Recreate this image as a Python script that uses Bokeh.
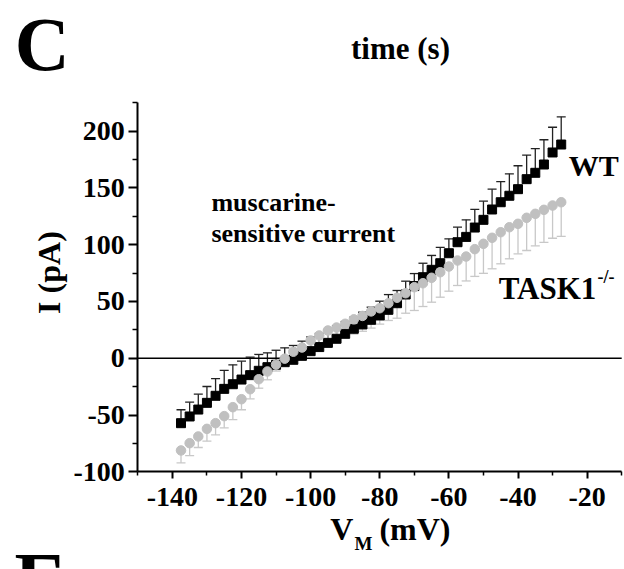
import math
from bokeh.plotting import figure
from bokeh.models import (ColumnDataSource, Range1d, FixedTicker, Whisker, TeeHead,
                          Label, LinearAxis)
from bokeh.embed import file_html
from bokeh.resources import INLINE

# ---------------- data ----------------
vm = [-137.5, -135.0, -132.5, -130.0, -127.5, -125.0, -122.5, -120.0, -117.5, -115.0,
      -112.5, -110.0, -107.5, -105.0, -102.5, -100.0, -97.5, -95.0, -92.5, -90.0,
      -87.5, -85.0, -82.5, -80.0, -77.5, -75.0, -72.5, -70.0, -67.5, -65.0,
      -62.5, -60.0, -57.5, -55.0, -52.5, -50.0, -47.5, -45.0, -42.5, -40.0,
      -37.5, -35.0, -32.5, -30.0, -27.5]

wt_mean = [-57.2, -51.3, -45.2, -39.3, -33.1, -27.0, -22.9, -18.8, -14.9, -11.1,
           -7.9, -5.8, -3.5, -1.4, 2.1, 6.2, 9.8, 13.5, 17.1, 21.5,
           25.9, 29.7, 33.8, 37.6, 42.6, 48.4, 56.1, 63.5, 71.3, 77.8,
           83.6, 92.4, 102.1, 106.8, 115.0, 121.8, 130.9, 137.3, 143.0, 148.8,
           157.6, 163.2, 170.5, 181.1, 188.1]
wt_err = [11.8, 12.6, 13.5, 14.4, 15.2, 16.2, 17.1, 16.2, 15.8, 14.4,
          12.6, 12.8, 12.6, 12.6, 12.9, 12.5, 12.0, 11.5, 11.5, 10.8,
          10.2, 10.8, 11.1, 12.6, 13.4, 11.2, 11.7, 11.0, 12.3, 12.6,
          14.0, 12.7, 13.2, 15.0, 16.0, 16.4, 17.9, 18.2, 19.3, 20.6,
          21.2, 21.2, 21.8, 22.2, 24.4]

ko_mean = [-81.2, -74.8, -68.9, -62.2, -57.2, -51.0, -43.1, -36.1, -27.3, -18.5,
           -11.7, -5.7, -0.4, 5.7, 9.4, 15.6, 20.0, 24.4, 27.0, 30.3,
           34.2, 37.2, 41.2, 44.0, 48.4, 53.2, 57.2, 62.5, 66.0, 70.8,
           75.7, 80.7, 86.0, 89.5, 96.0, 100.7, 106.0, 110.9, 115.3, 118.3,
           123.6, 127.1, 130.6, 134.4, 137.3]
ko_err = [11.0, 11.0, 9.7, 10.8, 10.3, 10.3, 10.9, 9.3, 8.5, 7.9,
          7.3, 5.6, 6.0, 6.5, 7.5, 8.5, 9.5, 10.5, 11.5, 12.5,
          13.0, 13.5, 14.7, 14.0, 15.2, 18.0, 17.6, 20.5, 20.5, 21.5,
          22.0, 21.7, 22.0, 21.5, 24.0, 26.0, 27.3, 27.8, 27.8, 26.4,
          28.8, 28.2, 28.6, 28.8, 30.0]

x_ticks = [-140, -120, -100, -80, -60, -40, -20]
x_minor = [-150, -130, -110, -90, -70, -50, -30, -10]
y_ticks = [-100, -50, 0, 50, 100, 150, 200]
y_minor = [-75, -25, 25, 75, 125, 175, 225]

X_LIM = (-150, -10)     # extent of the drawn x axis
Y_LIM = (-100, 225)     # extent of the drawn y axis

# ---------------- figure ----------------
FONT = "Liberation Serif"
W, H = 624, 569
# axis box inside the canvas (pixels): left, right, top, bottom
BL, BR, BT, BB = 137.3, 621.2, 102.1, 471.3
kx = (X_LIM[1] - X_LIM[0]) / (BR - BL)
ky = (Y_LIM[1] - Y_LIM[0]) / (BB - BT)
xr = Range1d(X_LIM[0] - BL * kx, X_LIM[1] + (W - BR) * kx)
yr = Range1d(Y_LIM[0] - (H - BB) * ky, Y_LIM[1] + BT * ky)

p = figure(width=W, height=H, output_backend="svg", toolbar_location=None,
           x_range=xr, y_range=yr, x_axis_location=None, y_axis_location=None,
           min_border=0, min_border_left=0, min_border_right=0,
           min_border_top=0, min_border_bottom=0)
p.outline_line_color = None
p.grid.visible = False
p.background_fill_color = "white"
p.border_fill_color = "white"

xaxis = LinearAxis(fixed_location=Y_LIM[0], bounds=X_LIM,
                   ticker=FixedTicker(ticks=x_ticks, minor_ticks=x_minor))
yaxis = LinearAxis(fixed_location=X_LIM[0], bounds=Y_LIM,
                   ticker=FixedTicker(ticks=y_ticks, minor_ticks=y_minor))
xaxis.major_label_overrides = {t: str(t) for t in x_ticks}
yaxis.major_label_overrides = {t: str(t) for t in y_ticks}
for ax in (xaxis, yaxis):
    ax.axis_line_width = 2
    ax.axis_line_color = "black"
    ax.major_tick_line_width = 2
    ax.minor_tick_line_width = 1.5
    ax.major_tick_in = 0
    ax.minor_tick_in = 0
    ax.major_label_text_font = FONT
    ax.major_label_text_font_style = "bold"
    ax.major_label_text_font_size = "28px"
    ax.major_label_text_color = "black"
xaxis.major_tick_out = 7
xaxis.minor_tick_out = 4
xaxis.major_label_standoff = 9
yaxis.major_tick_out = 9
yaxis.minor_tick_out = 5
yaxis.major_label_standoff = 4
p.add_layout(xaxis, "below")
p.add_layout(yaxis, "left")

# zero line across the axis box
p.segment(x0=[X_LIM[0]], y0=[0], x1=[X_LIM[1]], y1=[0], line_color="black",
          line_width=1.5)

wt_src = ColumnDataSource(dict(x=vm, y=wt_mean,
                               up=[m + e for m, e in zip(wt_mean, wt_err)]))
ko_src = ColumnDataSource(dict(x=vm, y=ko_mean,
                               lo=[m - e for m, e in zip(ko_mean, ko_err)]))

wt_wh = Whisker(source=wt_src, base="x", upper="up", lower="y",
                upper_head=TeeHead(size=9, line_color="#222222", line_width=1.3),
                lower_head=None, line_color="#222222", line_width=1.3, level="underlay")
ko_wh = Whisker(source=ko_src, base="x", upper="y", lower="lo",
                lower_head=TeeHead(size=9, line_color="#c8c8c8", line_width=1.3),
                upper_head=None, line_color="#c8c8c8", line_width=1.3, level="underlay")
p.add_layout(wt_wh)
p.add_layout(ko_wh)

p.scatter("x", "y", source=wt_src, marker="square", size=9,
          fill_color="black", line_color="black")
p.scatter("x", "y", source=ko_src, marker="circle", size=9.5,
          fill_color="#c0c0c0", line_color="#c0c0c0")


def lab(x, y, text, size, baseline="bottom", **kw):
    p.add_layout(Label(x=x, y=y, text=text, text_font=FONT, text_font_style="bold",
                       text_font_size=size, text_color="black",
                       text_baseline=baseline, **kw))


lab(-185.6, 239.7, "C", "76px")
lab(-74.0, 257.6, "time (s)", "31px", text_align="center")
lab(-175.8, 75.4, "I (pA)", "32px", baseline="middle", angle=math.pi / 2,
    text_align="center")
lab(-94.3, -166.0, "V", "32px")
lab(-87.3, -172.1, "M", "19px")
lab(-80.1, -166.0, "(mV)", "32px")
lab(-185.7, -233.1, "E", "78px")

lab(-25.3, 155.0, "WT", "30px")
lab(-45.6, 45.9, "TASK1", "31px")
lab(-17.0, 63.1, "-/-", "18px")
lab(-128.7, 123.9, "muscarine-", "26px")
lab(-128.7, 96.8, "sensitive current", "26px")

open("out.html", "w").write(file_html(p, INLINE))
